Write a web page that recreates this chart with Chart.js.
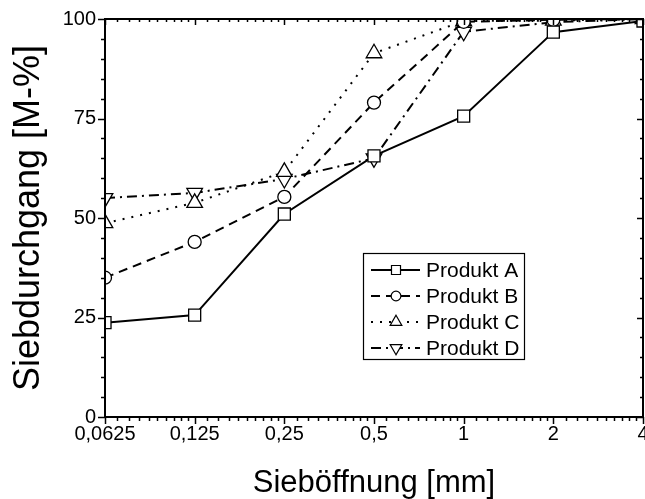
<!DOCTYPE html>
<html>
<head>
<meta charset="utf-8">
<script src="https://cdn.jsdelivr.net/npm/chart.js@4.4.1/dist/chart.umd.min.js"></script>
<style>
    html, body { margin: 0; padding: 0; background: #fff; }
    #wrap { width: 645px; height: 499px; position: relative; }
</style>
</head>
<body>
<div id="wrap"><canvas id="chart-sieblinie"></canvas></div>
<script>
// Sieblinien, Siebdurchgang in M-% je Sieböffnung
const SIEBE = [0.0625, 0.125, 0.25, 0.5, 1, 2, 4];
const Y_TICKS = [0, 25, 50, 75, 100];
const PRODUKT_A = [23.7, 25.6, 51.0, 65.6, 75.6, 96.7, 99.5];
const PRODUKT_B = [35.0, 44.0, 55.3, 79.0, 99.3, 99.8, 100];
const PRODUKT_C = [48.7, 53.8, 61.6, 91.4, 99.5, 99.6, 100];
const PRODUKT_D = [55.0, 56.3, 59.8, 65.0, 96.8, 99.2, 100];
const NAMEN = ['Produkt A', 'Produkt B', 'Produkt C', 'Produkt D'];

const FONT = 'Liberation Sans, Arial, sans-serif';

function formatarSieb(v) {
    return String(v).replace('.', ',');
}

function pontos(valores) {
    return SIEBE.map((x, i) => ({ x: x, y: valores[i] }));
}

function serie(nome, valores, dash, estilo, raio, rotacao) {
    return {
        label: nome,
        data: pontos(valores),
        borderColor: '#000',
        borderWidth: 2,
        borderDash: dash,
        pointStyle: estilo,
        pointRadius: raio,
        pointRotation: rotacao,
        pointBackgroundColor: '#fff',
        pointBorderColor: '#000',
        pointBorderWidth: 1.3,
        tension: 0
    };
}

// Rahmen mit Haupt- und Nebenstrichen auf allen vier Seiten
const rahmenPlugin = {
    id: 'rahmen',
    afterDatasetsDraw(chart) {
        const { ctx, chartArea: a, scales } = chart;
        const xs = scales.x, ys = scales.y;
        ctx.save();
        ctx.strokeStyle = '#000';
        ctx.lineWidth = 1.5;

        const linie = (x1, y1, x2, y2) => {
            ctx.beginPath();
            ctx.moveTo(x1, y1);
            ctx.lineTo(x2, y2);
            ctx.stroke();
        };

        // x: Hauptstriche an SIEBE, Nebenstriche log-verteilt
        SIEBE.forEach((v, i) => {
            const px = Math.round(xs.getPixelForValue(v)) + 0.5;
            linie(px, a.bottom, px, a.bottom + 7);
            linie(px, a.top, px, a.top + 6);
            if (i < SIEBE.length - 1) {
                for (let k = 1; k <= 9; k++) {
                    const m = Math.round(xs.getPixelForValue(v * (1 + k / 10))) + 0.5;
                    linie(m, a.bottom, m, a.bottom + 4);
                    linie(m, a.top, m, a.top + 3);
                }
            }
        });

        // y: Hauptstriche alle 25, Nebenstriche alle 5
        for (let v = 0; v <= 100; v += 5) {
            const py = Math.round(ys.getPixelForValue(v)) + 0.5;
            const haupt = v % 25 === 0;
            linie(a.left - (haupt ? 7 : 4), py, a.left, py);
            linie(a.right - (haupt ? 6 : 3), py, a.right, py);
        }

        ctx.lineWidth = 2;
        ctx.strokeRect(a.left, a.top, a.right - a.left, a.bottom - a.top);
        ctx.restore();
    }
};

// Legende mit Linie + Symbol wie im Original
const legendePlugin = {
    id: 'legende',
    afterDraw(chart) {
        const { ctx } = chart;
        const box = { x: 363, y: 253, w: 161, h: 106 };
        ctx.save();
        ctx.fillStyle = '#fff';
        ctx.fillRect(box.x, box.y, box.w, box.h);
        ctx.strokeStyle = '#000';
        ctx.lineWidth = 1.2;
        ctx.strokeRect(box.x + 0.5, box.y + 0.5, box.w, box.h);

        chart.data.datasets.forEach((ds, i) => {
            const y = box.y + 17 + i * 26;
            ctx.strokeStyle = '#000';
            ctx.lineWidth = 2;
            ctx.setLineDash(ds.borderDash || []);
            ctx.beginPath();
            ctx.moveTo(box.x + 8, y);
            ctx.lineTo(box.x + 57, y);
            ctx.stroke();
            ctx.setLineDash([]);
            ctx.fillStyle = '#fff';
            ctx.lineWidth = 1.2;
            Chart.helpers.drawPoint(ctx, {
                pointStyle: ds.pointStyle,
                rotation: ds.pointRotation,
                radius: ds.pointRadius * 0.75,
                borderWidth: 1.2
            }, box.x + 33, y);
            ctx.fillStyle = '#000';
            ctx.font = '21px ' + FONT;
            ctx.textBaseline = 'middle';
            ctx.fillText(ds.label, box.x + 63, y + 1);
        });
        ctx.restore();
    }
};

const ctx = document.getElementById('chart-sieblinie');

new Chart(ctx, {
    type: 'line',
    data: {
        datasets: [
            serie(NAMEN[0], PRODUKT_A, [], 'rect', 8.5, 0),
            serie(NAMEN[1], PRODUKT_B, [9, 6], 'circle', 6.5, 0),
            serie(NAMEN[2], PRODUKT_C, [2, 7], 'triangle', 9, 0),
            serie(NAMEN[3], PRODUKT_D, [10, 5, 2, 5], 'triangle', 9, 180)
        ]
    },
    options: {
        responsive: true,
        maintainAspectRatio: false,
        animation: false,
        layout: { autoPadding: false, padding: { top: 19, right: 2, left: 0, bottom: 0 } },
        plugins: {
            legend: { display: false },
            tooltip: { enabled: false }
        },
        scales: {
            x: {
                type: 'logarithmic',
                min: SIEBE[0],
                max: SIEBE[SIEBE.length - 1],
                afterBuildTicks: (s) => { s.ticks = SIEBE.map(v => ({ value: v })); },
                afterFit: (s) => { s.height = 82; s.paddingLeft = 0; s.paddingRight = 0; },
                grid: { display: false, drawTicks: false },
                border: { display: false },
                ticks: {
                    color: '#000',
                    padding: 5,
                    maxRotation: 0,
                    autoSkip: false,
                    font: { family: FONT, size: 20 },
                    callback: (v) => formatarSieb(v)
                },
                title: {
                    display: true,
                    text: 'Sieböffnung [mm]',
                    color: '#000',
                    font: { family: FONT, size: 31 },
                    padding: { top: 0, bottom: -3 }
                }
            },
            y: {
                min: 0,
                max: 100,
                afterBuildTicks: (s) => { s.ticks = Y_TICKS.map(v => ({ value: v })); },
                afterFit: (s) => { s.width = 105; s.paddingTop = 0; s.paddingBottom = 0; },
                grid: { display: false, drawTicks: false },
                border: { display: false },
                ticks: {
                    color: '#000',
                    padding: 9,
                    font: { family: FONT, size: 20 }
                },
                title: {
                    display: true,
                    text: 'Siebdurchgang [M-%]',
                    color: '#000',
                    font: { family: FONT, size: 36 },
                    padding: { top: 7, bottom: 0 }
                }
            }
        }
    },
    plugins: [rahmenPlugin, legendePlugin]
});
</script>
</body>
</html>
